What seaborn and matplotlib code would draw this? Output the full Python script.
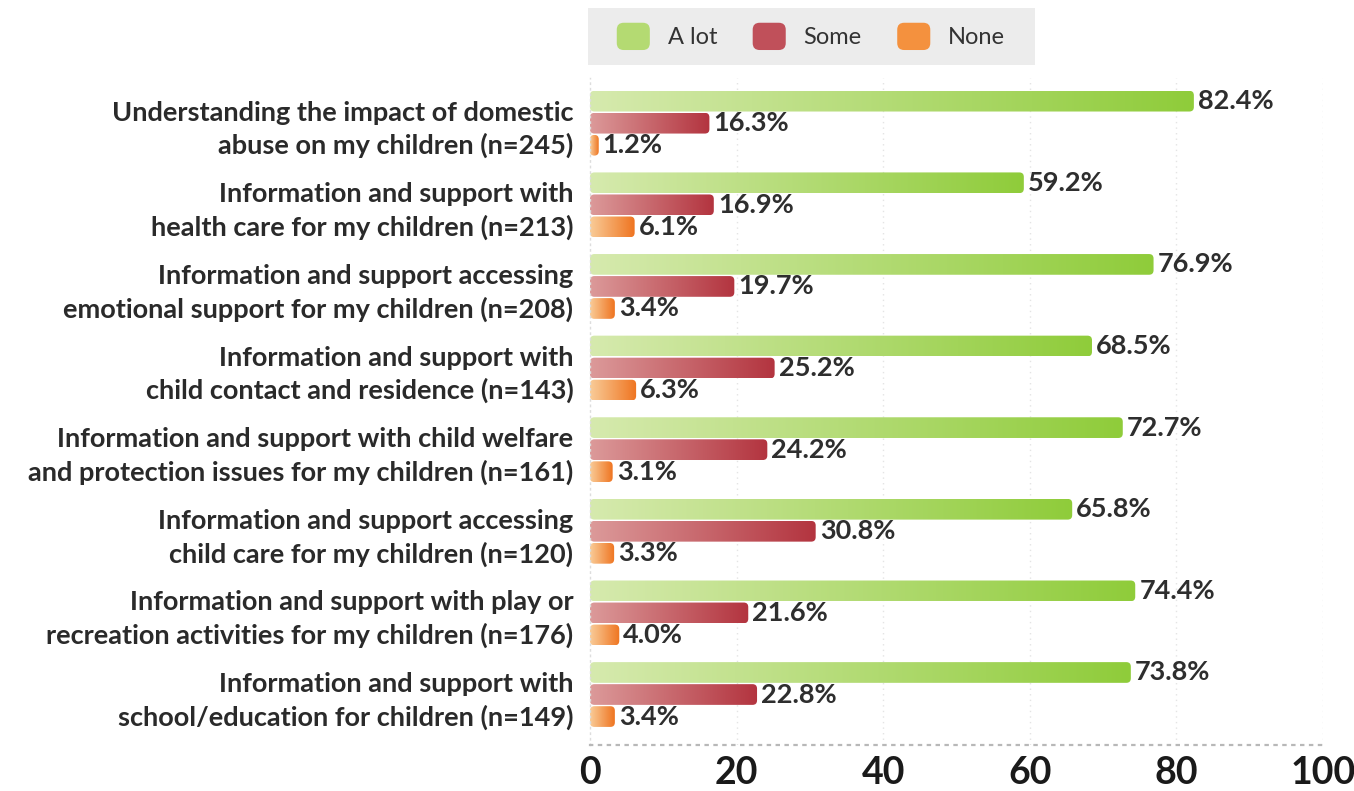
import numpy as np
import pandas as pd
import matplotlib
matplotlib.use("Agg")
import matplotlib.pyplot as plt
from matplotlib.colors import LinearSegmentedColormap
from matplotlib.patches import FancyBboxPatch, Patch, Rectangle
from matplotlib.legend_handler import HandlerPatch
import seaborn as sns

# Survey items (question text with sample size)
categories = [
    "Understanding the impact of domestic\nabuse on my children (n=245)",
    "Information and support with\nhealth care for my children (n=213)",
    "Information and support accessing\nemotional support for my children (n=208)",
    "Information and support with\nchild contact and residence (n=143)",
    "Information and support with child welfare\nand protection issues for my children (n=161)",
    "Information and support accessing\nchild care for my children (n=120)",
    "Information and support with play or\nrecreation activities for my children (n=176)",
    "Information and support with\nschool/education for children (n=149)",
]
levels = ["A lot", "Some", "None"]
a_lot = [82.4, 59.2, 76.9, 68.5, 72.7, 65.8, 74.4, 73.8]
some = [16.3, 16.9, 19.7, 25.2, 24.2, 30.8, 21.6, 22.8]
none = [1.2, 6.1, 3.4, 6.3, 3.1, 3.3, 4.0, 3.4]
x_ticks = [0, 20, 40, 60, 80, 100]

# gradient (light -> saturated) per response level
gradients = {
    "A lot": ("#d6eaae", "#8fcc3a"),
    "Some": ("#dc9a9a", "#b3343f"),
    "None": ("#f9cc98", "#ef7420"),
}
solid = {k: v[1] for k, v in gradients.items()}
legend_fill = {"A lot": "#b4da72", "Some": "#c0505a", "None": "#f4913e"}

df = pd.DataFrame({
    "item": categories * 3,
    "level": ["A lot"] * 8 + ["Some"] * 8 + ["None"] * 8,
    "pct": a_lot + some + none,
})

sns.set_theme(style="white")
plt.rcParams["font.family"] = ["Lato", "DejaVu Sans"]

W, H = 1354, 791
fig = plt.figure(figsize=(W / 100, H / 100), dpi=100)
ax = fig.add_axes([0.4357, 0.058, 0.977 - 0.4357, 0.901 - 0.058])

sns.barplot(data=df, y="item", x="pct", hue="level", hue_order=levels,
            order=categories, orient="h", palette=solid, width=0.81, gap=0.06,
            ax=ax, legend=False, errorbar=None)

ax.set_xlim(0, 100)
ax.set_ylim(7.62, -0.55)

# repaint each bar with a horizontal gradient and rounded ends
px_per_x = (0.977 - 0.4357) * W / 100.0
px_per_y = (0.901 - 0.058) * H / (7.62 + 0.55)
aspect = px_per_x / px_per_y
for bar_group, lvl in zip(ax.containers, levels):
    c0, c1 = gradients[lvl]
    cmap = LinearSegmentedColormap.from_list(lvl, [c0, c1])
    for rect in bar_group:
        x0, y0 = rect.get_x(), rect.get_y()
        w, h = rect.get_width(), rect.get_height()
        rect.set_facecolor("none")
        rect.set_edgecolor("none")
        r = min(4.5 / px_per_x, w / 2)
        clip = FancyBboxPatch((x0, y0), w, h,
                              boxstyle=f"round,pad=0,rounding_size={r}",
                              mutation_aspect=aspect,
                              transform=ax.transData, facecolor="none",
                              edgecolor="none")
        ax.add_patch(clip)
        grad = np.linspace(0, 1, 256).reshape(1, -1)
        im = ax.imshow(grad, cmap=cmap, aspect="auto",
                       extent=(x0, x0 + w, y0 + h, y0), zorder=2,
                       interpolation="bilinear")
        im.set_clip_path(clip)
        ax.text(x0 + w + 0.55, y0 + h / 2, f"{w:.1f}%", va="center",
                ha="left", fontsize=19.5, fontweight="bold", color="#2e2e2e",
                zorder=3)

ax.set_xlim(0, 100)
ax.set_ylim(7.62, -0.55)

ax.set_xlabel("")
ax.set_ylabel("")
ax.set_xticks(x_ticks)
ax.set_xticklabels([str(t) for t in x_ticks], fontsize=27, fontweight="bold",
                   color="#1a1a1a")
ax.tick_params(axis="x", length=0, pad=8)
ax.tick_params(axis="y", length=0, pad=12)
for lab in ax.get_yticklabels():
    lab.set_fontsize(19.5)
    lab.set_fontweight("bold")
    lab.set_color("#2a2a2a")
    lab.set_horizontalalignment("right")
    lab.set_linespacing(1.4)

for t in x_ticks[1:]:
    ax.axvline(t, color="#e4e4e4", lw=1, ls=(0, (1, 3)), zorder=0)

for side in ["top", "right"]:
    ax.spines[side].set_visible(False)
ax.spines["bottom"].set_color("#b8b8b8")
ax.spines["bottom"].set_linestyle((0, (1, 3)))
ax.spines["bottom"].set_linewidth(1.6)
ax.spines["left"].set_color("#dddddd")
ax.spines["left"].set_linestyle((0, (1, 3)))
ax.spines["left"].set_linewidth(1)


def rounded_handle(legend, orig_handle, xdescent, ydescent, width, height,
                   fontsize):
    return FancyBboxPatch((-xdescent, -ydescent), width, height,
                          boxstyle="round,pad=0,rounding_size=5")


# grey band behind the legend
fig.patches.append(Rectangle((588 / W, 1 - 65 / H), 447 / W, 57 / H,
                             transform=fig.transFigure, facecolor="#ececec",
                             edgecolor="none", zorder=0))

handles = [Patch(facecolor=legend_fill[l], edgecolor="none") for l in levels]
leg = fig.legend(handles, levels, loc="center", bbox_to_anchor=(811 / W, 0.954),
                 ncol=3, frameon=False, fontsize=17,
                 handlelength=1.4, handleheight=1.4, handletextpad=0.76,
                 columnspacing=1.5, borderpad=0.0, labelcolor="#333333",
                 handler_map={Patch: HandlerPatch(patch_func=rounded_handle)})

fig.savefig("out.png", dpi=100)
